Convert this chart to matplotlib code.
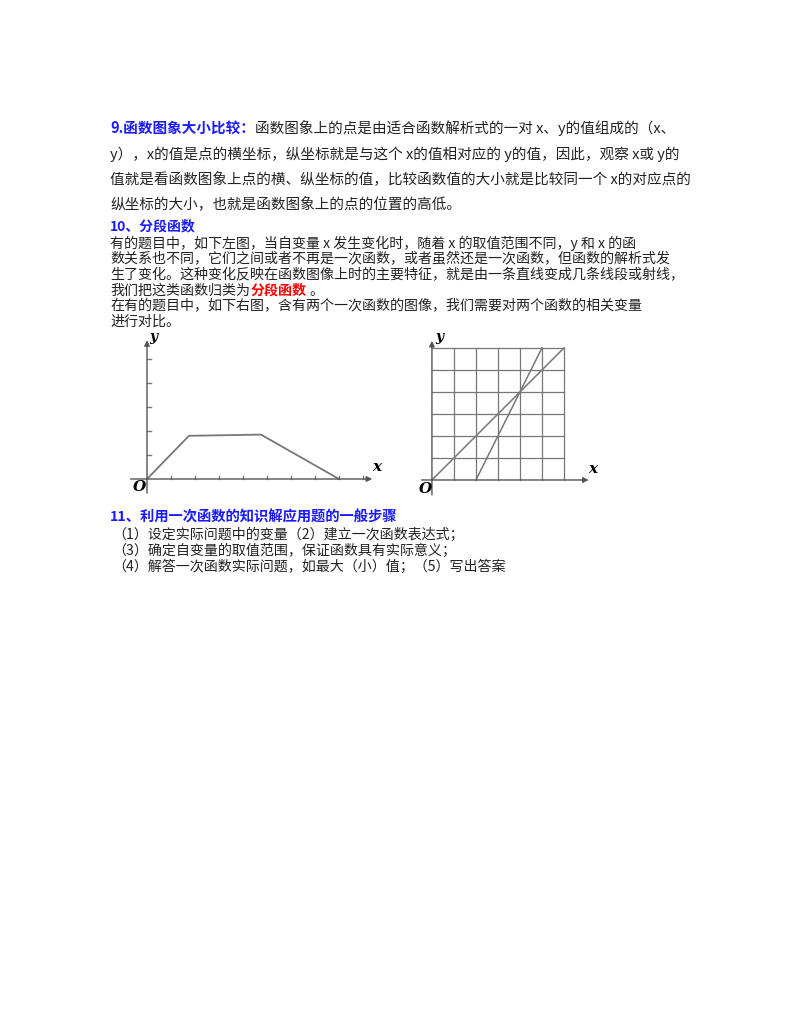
import matplotlib
matplotlib.use("Agg")
import matplotlib.pyplot as plt

plt.rcParams['font.family'] = ['Noto Sans CJK SC', 'DejaVu Sans']

W, H = 800, 1035

# left chart: piecewise function
pw_x = [0, 1.75, 4.75, 8]
pw_y = [0, 1.8, 1.85, 0]
pw_xticks = [1, 2, 3, 4, 5, 6, 7, 8, 9]
pw_yticks = [1, 2, 3, 4, 5]

# right chart: two linear functions on a 6x6 grid
line1_x = [0, 6]
line1_y = [0, 6]
line2_x = [2, 5]
line2_y = [0, 6]
grid_n = 6

para9 = [
    "y），x的值是点的横坐标，纵坐标就是与这个 x的值相对应的 y的值，因此，观察 x或 y的",
    "值就是看函数图象上点的横、纵坐标的值，比较函数值的大小就是比较同一个 x的对应点的",
    "纵坐标的大小，也就是函数图象上的点的位置的高低。",
]
para10 = [
    "有的题目中，如下左图，当自变量 x 发生变化时，随着 x 的取值范围不同，y 和 x 的函",
    "数关系也不同，它们之间或者不再是一次函数，或者虽然还是一次函数，但函数的解析式发",
    "生了变化。这种变化反映在函数图像上时的主要特征，就是由一条直线变成几条线段或射线，",
]
para10b = ["在有的题目中，如下右图，含有两个一次函数的图像，我们需要对两个函数的相关变量", "进行对比。"]
steps = [
    "（1）设定实际问题中的变量（2）建立一次函数表达式；",
    "（3）确定自变量的取值范围，保证函数具有实际意义；",
    "（4）解答一次函数实际问题，如最大（小）值；（5）写出答案",
]

fig = plt.figure(figsize=(8, 10.35), dpi=100)


def txt(x, y, s, size=10, color='#222222', weight='normal'):
    fig.text(x / W, 1 - y / H, s, fontsize=size, color=color, weight=weight, va='center', ha='left')


txt(110, 128, "9.函数图象大小比较：", 10.5, '#1a1aff', 'bold')
txt(255, 128, "函数图象上的点是由适合函数解析式的一对 x、y的值组成的（x、", 10.5)
for i, s in enumerate(para9):
    txt(110, 154 + i * 25, s, 10.5)

fs = 10.1
cw = fs * 100 / 72  # width of one CJK character in pixels
txt(110, 226, "10、分段函数", 10, '#1a1aff', 'bold')
for i, s in enumerate(para10):
    txt(110, 243 + i * 16, s, fs)
txt(110, 291, "我们把这类函数归类为", fs)
txt(110 + 10 * cw, 291, "分段函数", fs, 'red', 'bold')
txt(110 + 14.2 * cw, 291, "。", fs)
for i, s in enumerate(para10b):
    txt(110, 306 + i * 16, s, fs)

txt(110, 517, "11、利用一次函数的知识解应用题的一般步骤", 10.3, '#1a1aff', 'bold')
for i, s in enumerate(steps):
    txt(112, 535 + i * 16, s, fs)


def make_ax(x0, x1, y0, y1):
    return fig.add_axes([x0 / W, 1 - y1 / H, (x1 - x0) / W, (y1 - y0) / H])


gray = '#777777'
arrow = dict(arrowstyle='-|>', color='#555555', lw=1, mutation_scale=8)

# left chart
ax = make_ax(120, 385, 335, 500)
ax.set_xlim(-1.125, 9.917)
ax.set_ylim(-0.875, 6.0)
ax.axis('off')
ax.annotate('', xy=(9.5, 0), xytext=(-0.8, 0), arrowprops=arrow)
ax.annotate('', xy=(0, 5.9), xytext=(0, -0.7), arrowprops=arrow)
for t in pw_xticks:
    ax.plot([t, t], [0, 0.12], color=gray, lw=1)
for t in pw_yticks:
    ax.plot([0, 0.15], [t, t], color=gray, lw=1)
ax.plot(pw_x, pw_y, color=gray, lw=1.3)
ax.text(9.4, 0.35, 'x', fontsize=11, weight='bold', style='italic', family='DejaVu Serif')
ax.text(0.1, 5.75, 'y', fontsize=10, weight='bold', style='italic', family='DejaVu Serif')
ax.text(-0.6, -0.35, 'O', fontsize=11, weight='bold', style='italic', family='DejaVu Serif', va='center')

# right chart
ax2 = make_ax(415, 600, 335, 500)
ax2.set_xlim(-0.77, 7.64)
ax2.set_ylim(-0.91, 6.59)
ax2.axis('off')
for k in range(1, grid_n + 1):
    ax2.plot([k, k], [0, grid_n], color=gray, lw=0.9)
    ax2.plot([0, grid_n], [k, k], color=gray, lw=0.9)
ax2.annotate('', xy=(7.25, 0), xytext=(-0.6, 0), arrowprops=arrow)
ax2.annotate('', xy=(0, 6.45), xytext=(0, -0.8), arrowprops=arrow)
ax2.plot(line1_x, line1_y, color=gray, lw=1.1)
ax2.plot(line2_x, line2_y, color=gray, lw=1.1)
ax2.text(7.1, 0.3, 'x', fontsize=11, weight='bold', style='italic', family='DejaVu Serif')
ax2.text(0.15, 6.3, 'y', fontsize=10, weight='bold', style='italic', family='DejaVu Serif')
ax2.text(-0.6, -0.4, 'O', fontsize=11, weight='bold', style='italic', family='DejaVu Serif', va='center')

fig.savefig('out.png', dpi=100)
